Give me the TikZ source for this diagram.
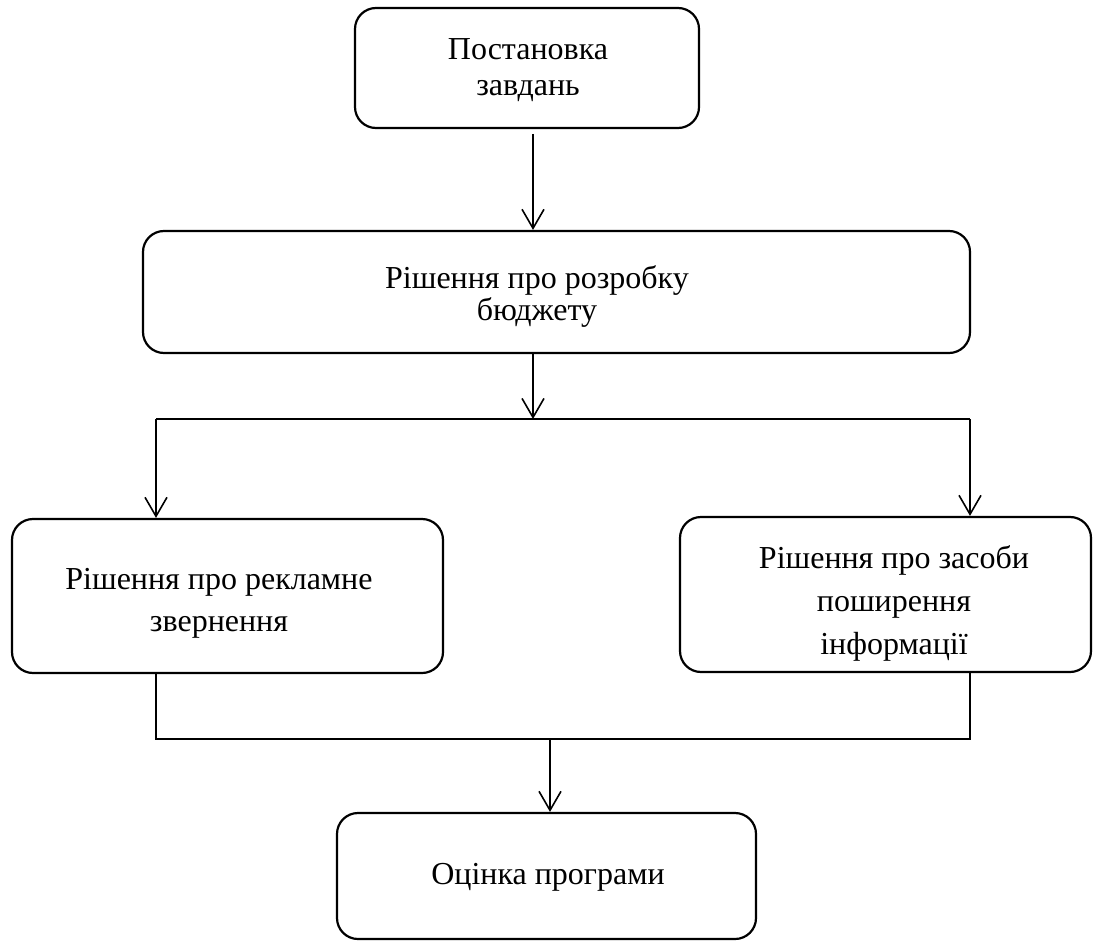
\documentclass[tikz,border=0pt]{standalone}
\usepackage{fontspec}
\setmainfont{Liberation Serif}
\usetikzlibrary{arrows.meta}
\begin{document}
\begin{tikzpicture}[x=1pt,y=-1pt,
 box/.style={draw,line width=2.2pt,rounded corners=21pt,inner sep=0pt},
 txt/.style={align=center,inner sep=0pt},
 conn/.style={line width=1.6pt},
 arr/.style={conn,-{Straight Barb[length=19pt,width=22pt,line width=1.6pt]}}]
\useasboundingbox (0,0) rectangle (1094,941);
% boxes
\node[box,minimum width=344pt,minimum height=120pt] (b1) at (527,68) {};
\node[box,minimum width=827pt,minimum height=122pt] (b2) at (556.5,292) {};
\node[box,minimum width=431pt,minimum height=154pt] (b3) at (227.5,596) {};
\node[box,minimum width=411pt,minimum height=155pt] (b4) at (885.5,594.5) {};
\node[box,minimum width=419pt,minimum height=126pt] (b5) at (546.5,876) {};
% texts
\node[txt,font=\fontsize{32}{36}\selectfont] (t1) at (528,70) {Постановка\\завдань};
\node[txt,font=\fontsize{32}{32}\selectfont] (t2) at (537,296) {Рішення про розробку\\бюджету};
\node[txt,font=\fontsize{32}{42}\selectfont] (t3) at (219,603) {Рішення про рекламне\\звернення};
\node[txt,font=\fontsize{32}{43}\selectfont] (t4) at (894,603) {Рішення про засоби\\поширення\\інформації};
\node[txt,font=\fontsize{32}{36}\selectfont] (t5) at (548,877) {Оцінка програми};
% junction coordinates
\coordinate (s1) at (533,134);
\coordinate (j1) at (533,419);
\coordinate (jL) at (156,419);
\coordinate (jR) at (970,419);
\coordinate (kL) at (156,739);
\coordinate (kR) at (970,739);
\coordinate (k1) at (550,739);
% connectors
\draw[arr] (s1) -- (s1 |- b2.north);
\draw[arr] (b2.south -| j1) -- (j1);
\draw[conn] (jL) -- (jR);
\draw[arr] (jL) -- (jL |- b3.north);
\draw[arr] (jR) -- (jR |- b4.north);
\draw[conn] (b3.south -| kL) -- (kL) -- (kR) -- (b4.south -| kR);
\draw[arr] (k1) -- (k1 |- b5.north);
\end{tikzpicture}
\end{document}
